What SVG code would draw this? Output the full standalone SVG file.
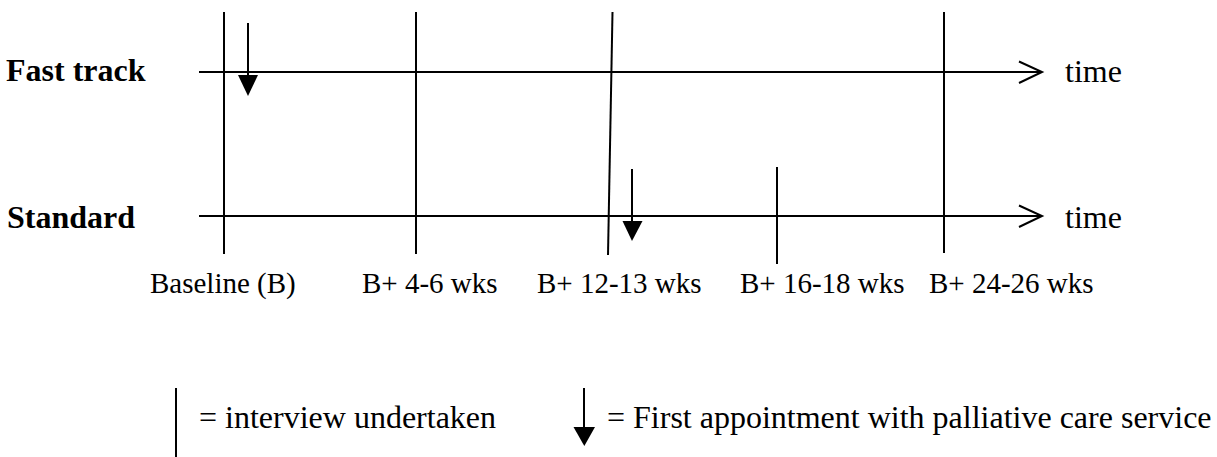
<svg xmlns="http://www.w3.org/2000/svg" width="1217" height="457" viewBox="0 0 1217 457">
<style>
.ln{stroke:#000;stroke-width:2;fill:none}
.hd{fill:#000;stroke:none}
.t{font-family:"Liberation Serif","Times New Roman",serif;fill:#000}
.big{font-size:32px}
.lab{font-size:29px}
.b{font-weight:bold}
</style>
<rect width="1217" height="457" fill="#fff"/>
<g id="row-labels">
<text class="t big b" x="6" y="81">Fast track</text>
<text class="t big b" x="7" y="228">Standard</text>
</g>
<g id="axis-fast">
<line class="ln" x1="199" y1="72" x2="1042" y2="72"/>
<polyline class="ln" points="1019,61.5 1042,72 1019,83"/>
<text class="t big" x="1065" y="82">time</text>
</g>
<g id="axis-standard">
<line class="ln" x1="199" y1="216" x2="1042" y2="216"/>
<polyline class="ln" points="1019,205.5 1042,216 1019,227"/>
<text class="t big" x="1065" y="228">time</text>
</g>
<g id="interviews">
<line class="ln" x1="224" y1="12" x2="224" y2="254"/>
<line class="ln" x1="416" y1="12" x2="416" y2="254"/>
<line class="ln" x1="612.5" y1="12" x2="608" y2="255"/>
<line class="ln" x1="777" y1="167" x2="777" y2="264"/>
<line class="ln" x1="944" y1="12" x2="944" y2="253"/>
</g>
<g id="appointments">
<line class="ln" x1="248" y1="23" x2="248" y2="76"/>
<polygon class="hd" points="238,75 258,75 248,96"/>
<line class="ln" x1="632" y1="169" x2="632" y2="222"/>
<polygon class="hd" points="622.5,221 642.5,221 632,241"/>
</g>
<g id="time-labels">
<text class="t lab" x="150" y="293">Baseline (B)</text>
<text class="t lab" x="362" y="293">B+ 4-6 wks</text>
<text class="t lab" x="537" y="293">B+ 12-13 wks</text>
<text class="t lab" x="740" y="293">B+ 16-18 wks</text>
<text class="t lab" x="929" y="293">B+ 24-26 wks</text>
</g>
<g id="legend">
<line class="ln" x1="176" y1="388" x2="176" y2="457"/>
<text class="t big" x="199" y="428">= interview undertaken</text>
<line class="ln" x1="584" y1="388" x2="584" y2="428"/>
<polygon class="hd" points="573.5,427 595,427 584.3,446"/>
<text class="t big" x="607" y="428">= First appointment with palliative care service</text>
</g>
</svg>
